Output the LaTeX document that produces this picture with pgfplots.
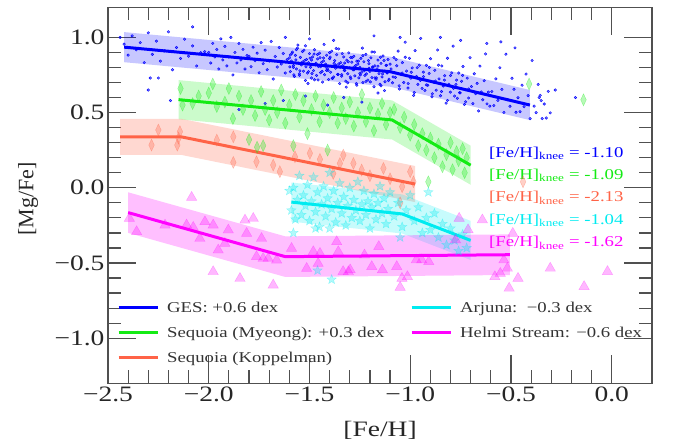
\documentclass[border=0pt]{standalone}
\usepackage{fontspec}
\setmainfont{Liberation Serif}[FakeStretch=1.25]
\newfontfamily\plainserif{Liberation Serif}
\usepackage{pgfplots}
\pgfplotsset{compat=1.18}
\definecolor{gesblue}{RGB}{0,0,255}
\definecolor{mygreen}{RGB}{20,235,20}
\definecolor{tomato}{RGB}{255,99,71}
\definecolor{mycyan}{RGB}{0,235,240}
\definecolor{mymag}{RGB}{255,0,255}
\definecolor{framegray}{RGB}{80,80,80}
\pgfdeclareplotmark{fstar}{%
 \pgfpathmoveto{\pgfpointpolar{90}{\pgfplotmarksize}}%
 \pgfpathlineto{\pgfpointpolar{126}{0.42\pgfplotmarksize}}%
 \pgfpathlineto{\pgfpointpolar{162}{\pgfplotmarksize}}%
 \pgfpathlineto{\pgfpointpolar{198}{0.42\pgfplotmarksize}}%
 \pgfpathlineto{\pgfpointpolar{234}{\pgfplotmarksize}}%
 \pgfpathlineto{\pgfpointpolar{270}{0.42\pgfplotmarksize}}%
 \pgfpathlineto{\pgfpointpolar{306}{\pgfplotmarksize}}%
 \pgfpathlineto{\pgfpointpolar{342}{0.42\pgfplotmarksize}}%
 \pgfpathlineto{\pgfpointpolar{18}{\pgfplotmarksize}}%
 \pgfpathlineto{\pgfpointpolar{54}{0.42\pgfplotmarksize}}%
 \pgfpathclose
 \pgfusepathqfillstroke}
\begin{document}
\begin{tikzpicture}
\useasboundingbox (-108bp,-64.7bp) rectangle (565bp,383.3bp);
\begin{axis}[
  at={(0,0)}, anchor=south west,
  width=544bp, height=376bp, scale only axis,
  xmin=-2.5, xmax=0.2, ymin=-1.3, ymax=1.2,
  xtick={-2.5,-2,-1.5,-1,-0.5,0},
  xticklabels={−2.5,−2.0,−1.5,−1.0,−0.5,0.0},
  ytick={-1,-0.5,0,0.5,1},
  yticklabels={−1.0,−0.5,0.0,0.5,1.0},
  minor x tick num=4, minor y tick num=4,
  tick align=inside,
  major tick length=28bp, minor tick length=13bp,
  axis line style={framegray, line width=1.2bp},
  every tick/.append style={framegray, line width=1.2bp},
  every minor tick/.append style={framegray, line width=1.2bp},
  tick label style={font=\fontsize{22bp}{26bp}\selectfont, text=black!85},
  xlabel={[Fe/H]}, ylabel={[Mg/Fe]},
  xlabel style={font=\fontsize{22bp}{26bp}\selectfont, text=black!85, at={(axis description cs:0.5,-0.124)}, anchor=center},
  ylabel style={font=\plainserif\fontsize{22bp}{26bp}\selectfont, text=black!85, at={(axis description cs:-0.147,0.49)}, anchor=center},
  legend columns=2,
  legend cell align=left,
  legend style={draw=none, fill=none, at={(axis description cs:0.0165,0.222)}, anchor=north west,
    font=\fontsize{15bp}{18bp}\selectfont, text=black!80, row sep=9bp, inner sep=0bp},
  legend image code/.code={\draw[#1] (0bp,0bp) -- (39bp,0bp);},
]
% ---------- bands ----------
\addplot[draw=none, fill=gesblue, fill opacity=0.22, forget plot] coordinates
 {(-2.42,1.035) (-1.10,0.872) (-0.406,0.650) (-0.406,0.450) (-1.10,0.672) (-2.42,0.835)} -- cycle;
\addplot[draw=none, fill=mygreen, fill opacity=0.22, forget plot] coordinates
 {(-2.15,0.716) (-1.09,0.581) (-0.70,0.28) (-0.70,0.02) (-1.09,0.321) (-2.15,0.456)} -- cycle;
\addplot[draw=none, fill=tomato, fill opacity=0.25, forget plot] coordinates
 {(-2.44,0.458) (-2.134,0.458) (-0.976,0.145) (-0.976,-0.095) (-2.134,0.218) (-2.44,0.218)} -- cycle;
\addplot[draw=none, fill=mycyan, fill opacity=0.22, forget plot] coordinates
 {(-1.59,0.035) (-1.04,-0.044) (-0.70,-0.22) (-0.70,-0.48) (-1.04,-0.304) (-1.59,-0.225)} -- cycle;
\addplot[draw=none, fill=mymag, fill opacity=0.25, forget plot] coordinates
 {(-2.40,-0.03) (-1.62,-0.323) (-0.505,-0.31) (-0.505,-0.58) (-1.62,-0.593) (-2.40,-0.30)} -- cycle;
% ---------- GES scatter ----------
\addplot[gesblue, only marks, mark=*, mark size=1.3bp, mark options={draw=none, fill=gesblue, fill opacity=0.5}, forget plot] table {
x y
-2.42 0.955
-2.40 0.882
-2.38 1.010
-2.36 0.917
-2.34 0.965
-2.32 0.832
-2.30 1.030
-2.28 0.887
-2.26 0.975
-2.24 0.842
-2.22 0.910
-2.20 1.037
-2.18 0.785
-2.16 0.933
-2.14 0.860
-2.12 0.988
-2.10 0.875
-2.08 0.943
-2.06 0.810
-2.04 0.898
-2.02 0.905
-2.29 0.73
-2.25 0.73
-2.30 0.65
-2.19 0.58
-2.44 1.00
-2.08 1.07
-2.00 0.90
-1.99 0.83
-1.98 0.96
-1.97 0.87
-1.96 0.92
-1.95 0.79
-1.94 0.99
-1.93 0.85
-1.92 0.94
-1.91 0.81
-1.90 0.87
-1.89 1.00
-1.88 0.75
-1.87 0.90
-1.86 0.83
-1.85 0.96
-1.84 0.85
-1.83 0.92
-1.82 0.79
-1.81 0.88
-1.80 0.875
-1.79 0.805
-1.78 0.935
-1.77 0.845
-1.76 0.895
-1.75 0.765
-1.74 0.965
-1.73 0.825
-1.72 0.915
-1.71 0.785
-1.70 0.843
-1.69 0.973
-1.68 0.723
-1.67 0.873
-1.66 0.803
-1.65 0.933
-1.64 0.823
-1.63 0.893
-1.62 0.763
-1.61 0.853
-1.600 0.864
-1.595 0.773
-1.590 0.843
-1.585 0.902
-1.580 0.812
-1.575 0.741
-1.570 0.880
-1.565 0.790
-1.560 0.929
-1.555 0.828
-1.550 0.758
-1.545 0.867
-1.540 0.817
-1.535 0.906
-1.530 0.775
-1.525 0.845
-1.520 0.714
-1.515 0.853
-1.510 0.763
-1.505 0.832
-1.500 0.892
-1.495 0.801
-1.490 0.730
-1.485 0.870
-1.480 0.779
-1.475 0.918
-1.470 0.818
-1.465 0.747
-1.460 0.857
-1.455 0.806
-1.450 0.895
-1.445 0.765
-1.440 0.834
-1.435 0.703
-1.430 0.843
-1.425 0.752
-1.420 0.822
-1.415 0.881
-1.410 0.790
-1.405 0.720
-1.400 0.859
-1.395 0.768
-1.390 0.908
-1.385 0.807
-1.380 0.737
-1.375 0.846
-1.370 0.795
-1.365 0.885
-1.360 0.754
-1.355 0.823
-1.350 0.693
-1.345 0.832
-1.340 0.742
-1.335 0.811
-1.330 0.870
-1.325 0.780
-1.320 0.709
-1.315 0.849
-1.310 0.758
-1.305 0.897
-1.300 0.797
-1.295 0.726
-1.290 0.835
-1.285 0.785
-1.280 0.874
-1.275 0.744
-1.270 0.813
-1.265 0.682
-1.260 0.822
-1.255 0.731
-1.250 0.801
-1.245 0.860
-1.240 0.769
-1.235 0.699
-1.230 0.838
-1.225 0.747
-1.220 0.887
-1.215 0.786
-1.210 0.716
-1.205 0.825
-1.200 0.774
-1.195 0.864
-1.190 0.733
-1.185 0.802
-1.180 0.672
-1.175 0.811
-1.170 0.721
-1.165 0.790
-1.160 0.849
-1.155 0.759
-1.150 0.688
-1.145 0.827
-1.140 0.737
-1.135 0.876
-1.130 0.776
-1.125 0.705
-1.120 0.814
-1.115 0.764
-1.110 0.853
-1.105 0.722
-1.5975 0.804
-1.5875 0.893
-1.5775 0.751
-1.5675 0.850
-1.5575 0.949
-1.5475 0.778
-1.5375 0.827
-1.5275 0.915
-1.5175 0.804
-1.5075 0.693
-1.4975 0.862
-1.4875 0.760
-1.4775 0.889
-1.4675 0.828
-1.4575 0.717
-1.4475 0.865
-1.4375 0.774
-1.4275 0.953
-1.4175 0.802
-1.4075 0.781
-1.3975 0.869
-1.3875 0.728
-1.3775 0.827
-1.3675 0.926
-1.3575 0.754
-1.3475 0.803
-1.3375 0.892
-1.3275 0.781
-1.3175 0.669
-1.3075 0.838
-1.2975 0.737
-1.2875 0.866
-1.2775 0.804
-1.2675 0.693
-1.2575 0.842
-1.2475 0.751
-1.2375 0.929
-1.2275 0.778
-1.2175 0.757
-1.2075 0.846
-1.1975 0.704
-1.1875 0.803
-1.1775 0.902
-1.1675 0.731
-1.1575 0.779
-1.1475 0.868
-1.1375 0.757
-1.1275 0.646
-1.1175 0.814
-1.1075 0.713
-1.85 0.52
-1.72 0.56
-1.63 0.58
-1.52 0.61
-1.41 0.55
-1.33 0.60
-1.24 0.57
-1.16 0.63
-1.62 1.00
-1.50 0.99
-1.38 0.98
-1.18 1.01
-1.05 1.00
-1.095 0.790
-1.088 0.698
-1.081 0.866
-1.074 0.734
-1.067 0.811
-1.060 0.909
-1.053 0.657
-1.046 0.755
-1.039 0.832
-1.032 0.700
-1.025 0.968
-1.018 0.776
-1.011 0.663
-1.004 0.861
-0.997 0.729
-0.990 0.797
-0.983 0.614
-0.976 0.912
-0.969 0.740
-0.962 0.688
-0.955 0.815
-0.948 0.993
-0.941 0.661
-0.934 0.739
-0.927 0.647
-0.920 0.814
-0.913 0.682
-0.906 0.760
-0.899 0.858
-0.892 0.605
-0.885 0.703
-0.878 0.781
-0.871 0.649
-0.864 0.916
-0.857 0.724
-0.850 0.612
-0.843 0.810
-0.836 0.677
-0.829 0.745
-0.822 0.563
-0.815 0.861
-0.808 0.688
-0.801 0.636
-0.794 0.764
-0.787 0.942
-0.780 0.610
-0.773 0.687
-0.766 0.595
-0.759 0.763
-0.752 0.631
-0.745 0.708
-0.738 0.806
-0.731 0.554
-0.724 0.652
-0.717 0.729
-0.710 0.597
-0.703 0.865
-0.696 0.673
-0.689 0.560
-0.682 0.758
-0.675 0.626
-0.668 0.694
-0.661 0.511
-0.654 0.809
-0.647 0.637
-0.640 0.585
-0.633 0.712
-0.626 0.890
-0.619 0.558
-0.612 0.636
-0.605 0.543
-0.595 0.640
-0.585 0.547
-0.575 0.724
-0.565 0.581
-0.555 0.798
-0.545 0.654
-0.535 0.501
-0.525 0.888
-0.515 0.585
-0.505 0.542
-0.495 0.728
-0.485 0.655
-0.475 0.502
-0.465 0.599
-0.455 0.506
-0.445 0.682
-0.435 0.539
-0.425 0.756
-0.415 0.613
-0.405 0.460
-0.395 0.846
-0.385 0.543
-0.375 0.500
-0.365 0.687
-0.355 0.614
-0.345 0.460
-0.335 0.557
-0.325 0.464
-0.315 0.641
-0.305 0.498
-0.75 0.98
-0.62 0.96
-0.55 0.97
-0.48 0.93
-0.85 1.00
-0.28 0.65
-0.18 0.60
-0.35 0.58
-0.36 0.60
-1.595 0.883
-1.580 0.801
-1.565 0.919
-1.550 0.748
-1.535 0.836
-1.520 0.944
-1.505 0.772
-1.490 0.850
-1.475 0.718
-1.460 0.886
-1.445 0.805
-1.430 0.863
-1.415 0.781
-1.400 0.899
-1.385 0.727
-1.370 0.815
-1.355 0.923
-1.340 0.752
-1.325 0.830
-1.310 0.698
-1.295 0.866
-1.280 0.784
-1.265 0.842
-1.250 0.761
-1.235 0.879
-1.220 0.707
-1.205 0.795
-1.190 0.903
-1.175 0.731
-1.160 0.809
-1.145 0.678
-1.130 0.846
-1.115 0.764
-1.100 0.822
-1.085 0.737
-1.070 0.852
-1.055 0.678
-1.040 0.763
-1.025 0.868
-1.010 0.693
-0.995 0.768
-0.980 0.634
-0.965 0.799
-0.950 0.714
-0.935 0.769
-0.920 0.684
-0.905 0.800
-0.890 0.625
-0.875 0.710
-0.860 0.815
-0.845 0.640
-0.830 0.716
-0.815 0.581
-0.800 0.746
-0.785 0.661
-0.770 0.716
-0.755 0.632
-0.740 0.747
-0.725 0.572
-0.710 0.657
};
% ---------- Myeong scatter ----------
\addplot[mygreen, only marks, mark=diamond*, mark size=6bp, mark options={xscale=0.62, draw=mygreen, fill=mygreen, draw opacity=0.4, fill opacity=0.3}, forget plot] table {
x y
-2.14 0.66
-2.13 0.55
-2.08 0.56
-2.05 0.61
-2.00 0.63
-1.98 0.69
-1.96 0.54
-1.92 0.57
-1.90 0.66
-1.88 0.46
-1.85 0.61
-1.83 0.52
-1.80 0.32
-1.79 0.58
-1.77 0.48
-1.76 0.27
-1.74 0.64
-1.73 0.28
-1.72 0.52
-1.70 0.45
-1.68 0.58
-1.66 0.50
-1.64 0.65
-1.62 0.43
-1.60 0.55
-1.58 0.28
-1.57 0.62
-1.55 0.47
-1.53 0.58
-1.51 0.36
-1.49 0.52
-1.47 0.61
-1.45 0.44
-1.43 0.55
-1.41 0.25
-1.40 0.50
-1.38 0.60
-1.36 0.43
-1.34 0.53
-1.32 0.46
-1.30 0.57
-1.28 0.41
-1.26 0.50
-1.24 0.62
-1.22 0.44
-1.20 0.53
-1.18 0.38
-1.16 0.49
-1.14 0.56
-1.12 0.42
-1.10 0.50
-1.08 0.52
-1.05 0.40
-1.03 0.47
-1.00 0.35
-0.98 0.42
-0.96 0.28
-0.94 0.36
-0.92 0.25
-0.90 0.33
-0.88 0.20
-0.86 0.29
-0.84 0.14
-0.82 0.22
-0.80 0.30
-0.79 0.12
-0.77 0.24
-0.76 0.18
-0.74 0.26
-0.73 0.10
-0.72 0.20
-0.91 0.04
-0.41 0.69
-0.14 0.585
};
% ---------- Koppelman scatter ----------
\addplot[tomato, only marks, mark=diamond*, mark size=6bp, mark options={xscale=0.62, draw=tomato, fill=tomato, draw opacity=0.4, fill opacity=0.3}, forget plot] table {
x y
-2.284 0.284
-2.25 0.384
-2.156 0.284
-2.143 0.373
-2.15 0.33
-1.96 0.317
-1.878 0.339
-1.878 0.169
-1.763 0.173
-1.68 0.151
-1.647 0.107
-1.572 0.206
-1.498 0.229
-1.448 0.189
-1.382 0.095
-1.349 0.162
-1.332 0.217
-1.282 0.162
-1.241 0.118
-1.20 0.08
-1.133 0.129
-1.10 0.06
-1.04 0.007
-1.00 0.107
-0.984 0.04
-1.05 -0.10
-0.44 0.04
};
% ---------- Arjuna scatter ----------
\addplot[mycyan, only marks, mark=fstar, mark size=5bp, mark options={draw=mycyan, fill=mycyan, draw opacity=0.35, fill opacity=0.3}, forget plot] table {
x y
-1.60 -0.02
-1.59 -0.15
-1.58 0.00
-1.57 -0.21
-1.56 -0.08
-1.55 0.08
-1.54 -0.18
-1.53 -0.05
-1.52 -0.12
-1.51 0.02
-1.50 -0.22
-1.49 -0.09
-1.48 0.07
-1.47 -0.16
-1.46 -0.03
-1.45 -0.26
-1.44 -0.11
-1.43 0.01
-1.42 -0.19
-1.41 -0.07
-1.40 0.10
-1.39 -0.14
-1.38 -0.02
-1.37 -0.23
-1.36 -0.10
-1.35 0.03
-1.34 -0.17
-1.33 -0.06
-1.32 -0.25
-1.31 -0.12
-1.30 0.00
-1.29 -0.20
-1.28 -0.08
-1.27 -0.15
-1.26 0.04
-1.25 -0.22
-1.24 -0.11
-1.23 -0.02
-1.22 -0.18
-1.21 -0.09
-1.20 -0.27
-1.19 -0.13
-1.18 -0.04
-1.17 -0.21
-1.16 -0.10
-1.15 0.01
-1.14 -0.17
-1.13 -0.07
-1.12 -0.24
-1.11 -0.14
-1.10 -0.03
-1.08 -0.19
-1.06 -0.10
-1.04 -0.26
-1.02 -0.15
-1.00 -0.05
-0.98 -0.22
-0.96 -0.13
-0.94 -0.30
-0.92 -0.20
-0.90 -0.28
-0.88 -0.17
-0.86 -0.33
-0.84 -0.24
-0.82 -0.38
-0.80 -0.27
-0.78 -0.35
-0.76 -0.42
-0.74 -0.31
-0.72 -0.40
-1.58 -0.30
-1.47 -0.27
-1.40 -0.27
-1.46 -0.55
-1.39 -0.61
-0.91 -0.03
-1.05 -0.33
};
% ---------- Helmi scatter ----------
\addplot[mymag, only marks, mark=triangle*, mark size=6bp, mark options={draw=mymag, fill=mymag, draw opacity=0.3, fill opacity=0.28}, forget plot] table {
x y
-2.394 -0.203
-2.358 -0.292
-2.217 -0.248
-2.11 -0.248
-2.085 -0.064
-2.077 -0.263
-2.044 -0.337
-2.019 -0.226
-1.978 -0.248
-1.978 -0.558
-1.953 -0.414
-1.92 -0.37
-1.903 -0.281
-1.845 -0.603
-1.82 -0.215
-1.812 -0.303
-1.779 -0.204
-1.763 -0.458
-1.738 -0.337
-1.73 -0.47
-1.705 -0.47
-1.68 -0.647
-1.663 -0.481
-1.589 -0.403
-1.514 -0.536
-1.481 -0.425
-1.457 -0.503
-1.448 -0.436
-1.365 -0.359
-1.357 -0.425
-1.307 -0.558
-1.333 -0.557
-1.298 -0.546
-1.227 -0.447
-1.191 -0.524
-1.156 -0.391
-1.138 -0.546
-1.067 -0.524
-1.041 -0.602
-1.05 -0.662
-1.014 -0.591
-0.97 -0.48
-0.943 -0.48
-0.908 -0.491
-0.775 -0.347
-0.757 -0.203
-0.713 -0.28
-0.642 -0.214
-0.58 -0.591
-0.553 -0.569
-0.535 -0.48
-0.518 -0.535
-0.509 -0.668
-0.491 -0.303
-0.465 -0.602
-0.305 -0.535
-0.137 -0.657
-0.021 -0.557
};
% ---------- fit lines ----------
\addplot[gesblue, line width=3bp, forget plot] coordinates {(-2.42,0.935) (-1.10,0.772) (-0.406,0.550)};
\addplot[mygreen, line width=3bp, forget plot] coordinates {(-2.15,0.586) (-1.09,0.451) (-0.70,0.150)};
\addplot[tomato, line width=3bp, forget plot] coordinates {(-2.44,0.338) (-2.134,0.338) (-0.976,0.025)};
\addplot[mycyan, line width=3bp, forget plot] coordinates {(-1.59,-0.095) (-1.04,-0.174) (-0.70,-0.350)};
\addplot[mymag, line width=3bp, forget plot] coordinates {(-2.40,-0.165) (-1.62,-0.458) (-0.505,-0.445)};
% ---------- knee labels ----------
\node[anchor=west, inner sep=0pt, text=gesblue, font=\fontsize{15bp}{18bp}\selectfont] at (axis cs:-0.609,0.231) {[Fe/H]\textsubscript{knee} = -1.10};
\node[anchor=west, inner sep=0pt, text=mygreen, font=\fontsize{15bp}{18bp}\selectfont] at (axis cs:-0.609,0.082) {[Fe/H]\textsubscript{knee} = -1.09};
\node[anchor=west, inner sep=0pt, text=tomato, font=\fontsize{15bp}{18bp}\selectfont] at (axis cs:-0.609,-0.068) {[Fe/H]\textsubscript{knee} = -2.13};
\node[anchor=west, inner sep=0pt, text=mycyan, font=\fontsize{15bp}{18bp}\selectfont] at (axis cs:-0.609,-0.217) {[Fe/H]\textsubscript{knee} = -1.04};
\node[anchor=west, inner sep=0pt, text=mymag, font=\fontsize{15bp}{18bp}\selectfont] at (axis cs:-0.609,-0.367) {[Fe/H]\textsubscript{knee} = -1.62};
% ---------- legend ----------
\addlegendimage{gesblue, line width=3bp}
\addlegendentry{\makebox[247bp][l]{\hspace{6bp}GES: +0.6 dex}}
\addlegendimage{mycyan, line width=3bp}
\addlegendentry{\hspace{6bp}Arjuna:\ \ −0.3 dex}
\addlegendimage{mygreen, line width=3bp}
\addlegendentry{\makebox[247bp][l]{\hspace{6bp}Sequoia (Myeong): +0.3 dex}}
\addlegendimage{mymag, line width=3bp}
\addlegendentry{\hspace{6bp}Helmi Stream: −0.6 dex}
\addlegendimage{tomato, line width=3bp}
\addlegendentry{\makebox[247bp][l]{\hspace{6bp}Sequoia (Koppelman)}}
\end{axis}
\end{tikzpicture}
\end{document}
